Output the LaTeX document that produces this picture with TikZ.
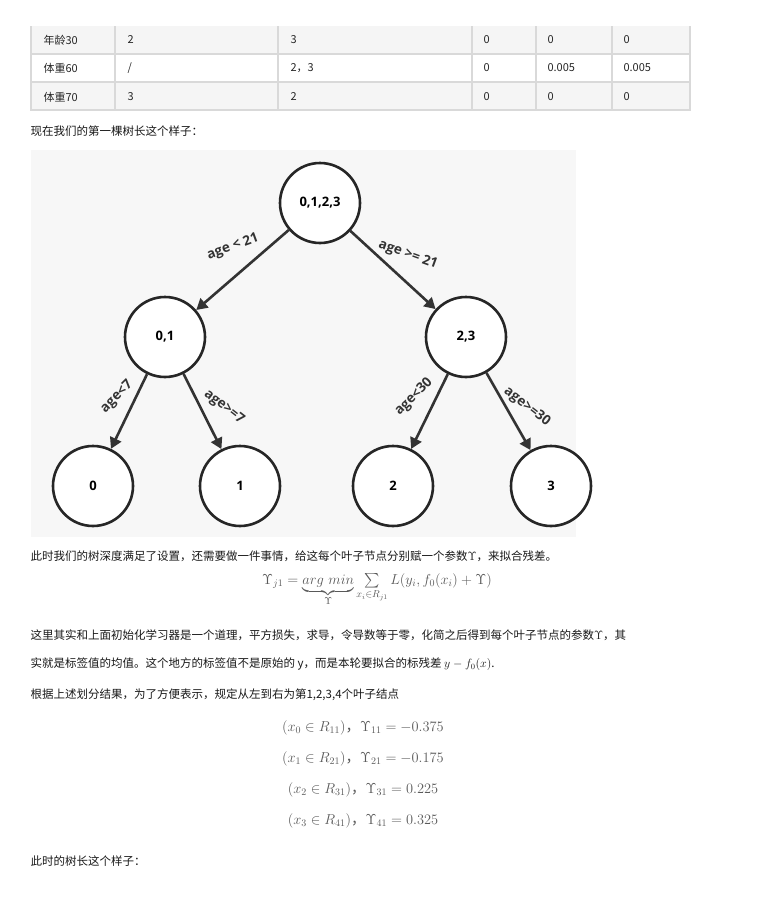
\documentclass[tikz,border=0pt]{standalone}
\usepackage{amsmath,amssymb}
\usepackage{fontspec}
\usepackage{tikz}
\usetikzlibrary{calc,positioning,arrows.meta}
\newfontfamily\cjk{Noto Sans CJK SC}
\newfontfamily\labfont{Open Sans}

\begin{document}
\begin{tikzpicture}[
  x=1pt,y=-1pt,
  treenode/.style={draw=black!85,line width=2.6pt,circle,minimum size=80pt,fill=white,font=\labfont\bfseries\fontsize{13}{15}\selectfont},
  branch/.style={draw=black!80,line width=2.6pt,-{Triangle[length=11pt,width=12pt]}},
  cond/.style={font=\labfont\bfseries\fontsize{13.5}{15}\selectfont,text=black!80},
  cell/.style={anchor=west,font=\cjk\fontsize{11}{13}\selectfont,text=black!85},
  para/.style={anchor=west,font=\cjk\fontsize{11.5}{14}\selectfont,text=black!90},
  formula/.style={text=black!65,font=\fontsize{14.5}{17}\selectfont},
]
  \useasboundingbox (0,0) rectangle (760,913);
  \fill[white] (0,0) rectangle (760,913);

  % Table
  \fill[black!4] (31,26) rectangle (690,54);
  \fill[black!4] (31,82) rectangle (690,110);
  \draw[black!15,line width=1.5pt] (31,26) -- (31,110) -- (690,110) -- (690,26);
  \foreach \y in {54,82} \draw[black!15,line width=1.5pt] (31,\y) -- (690,\y);
  \foreach \x in {115,278,472,536,612} \draw[black!15,line width=1.5pt] (\x,26) -- (\x,110);
  \node[cell] (t11) at (40,40) {年龄30};
  \node[cell] (t12) at (124,40) {2};
  \node[cell] (t13) at (287,40) {3};
  \node[cell] (t14) at (480,40) {0};
  \node[cell] (t15) at (544,40) {0};
  \node[cell] (t16) at (620,40) {0};
  \node[cell] (t21) at (40,68) {体重60};
  \node[cell] (t22) at (124,68) {/};
  \node[cell] (t23) at (287,68) {2，3};
  \node[cell] (t24) at (480,68) {0};
  \node[cell] (t25) at (544,68) {0.005};
  \node[cell] (t26) at (620,68) {0.005};
  \node[cell] (t31) at (40,97) {体重70};
  \node[cell] (t32) at (124,97) {3};
  \node[cell] (t33) at (287,97) {2};
  \node[cell] (t34) at (480,97) {0};
  \node[cell] (t35) at (544,97) {0};
  \node[cell] (t36) at (620,97) {0};

  \node[para] (p1) at (27,131) {现在我们的第一棵树长这个样子：};

  % Tree picture
  \fill[black!3] (31,150) rectangle (576,537);
  \node[treenode] (root) at (320,203) {0,1,2,3};
  \node[treenode] (n01) at (165,337) {0,1};
  \node[treenode] (n23) at (466,337) {2,3};
  \node[treenode] (l0) at (93,486) {0};
  \node[treenode] (l1) at (240,486) {1};
  \node[treenode] (l2) at (393,486) {2};
  \node[treenode] (l3) at (551,486) {3};

  \path[branch] (root) -- (n01);
  \path[branch] (root) -- (n23);
  \path[branch] (n01) -- (l0);
  \path[branch] (n01) -- (l1);
  \path[branch] (n23) -- (l2);
  \path[branch] (n23) -- (l3);

  \node[cond,rotate=20] (s1) at (233,247) {age < 21};
  \node[cond,rotate=-20] (s2) at (408,255) {age >= 21};
  \node[cond,rotate=45] (s3) at (117,397) {age<7};
  \node[cond,rotate=-38] (s4) at (224,407) {age>=7};
  \node[cond,rotate=45] (s5) at (414,397) {age<30};
  \node[cond,rotate=-38] (s6) at (527,407) {age>=30};

  % Text below
  \node[para] (p2) at (27,556) {此时我们的树深度满足了设置，还需要做一件事情，给这每个叶子节点分别赋一个参数$\Upsilon$，来拟合残差。};
  \node[formula] (f1) at (377,590) {$\Upsilon_{j1}=\underbrace{arg\ min}_{\Upsilon}\sum\limits_{x_i\in R_{j1}}L(y_i,f_0(x_i)+\Upsilon)$};
  \node[para] (p3) at (27,635) {这里其实和上面初始化学习器是一个道理，平方损失，求导，令导数等于零，化简之后得到每个叶子节点的参数$\Upsilon$，其};
  \node[para] (p4) at (27,664) {实就是标签值的均值。这个地方的标签值不是原始的 y，而是本轮要拟合的标残差 $y-f_0(x)$.};
  \node[para] (p5) at (27,695) {根据上述划分结果，为了方便表示，规定从左到右为第1,2,3,4个叶子结点};
  \node[formula] (e1) at (363,728) {$(x_0\in R_{11})${\cjk ，}$\Upsilon_{11}=-0.375$};
  \node[formula] (e2) at (363,759) {$(x_1\in R_{21})${\cjk ，}$\Upsilon_{21}=-0.175$};
  \node[formula] (e3) at (363,790) {$(x_2\in R_{31})${\cjk ，}$\Upsilon_{31}=0.225$};
  \node[formula] (e4) at (363,821) {$(x_3\in R_{41})${\cjk ，}$\Upsilon_{41}=0.325$};
  \node[para] (p6) at (27,861) {此时的树长这个样子：};
\end{tikzpicture}
\end{document}
